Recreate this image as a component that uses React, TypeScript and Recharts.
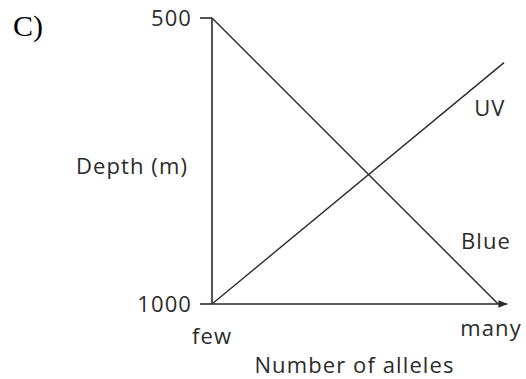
import React from "react";
import {
  LineChart,
  Line,
  XAxis,
  YAxis,
  ReferenceDot,
} from "recharts";

// x: number of alleles on a 0..100 scale (few -> many), y: depth in m
const blueLine = [
  { x: 0, depth: 500 },
  { x: 97, depth: 1000 },
];
const uvLine = [
  { x: 0, depth: 1000 },
  { x: 99, depth: 578 },
];

const xTicks = [0, 94.6];
const xTickLabels = ["few", "many"];
const yTicks = [500, 1000];

const seriesLabels = [
  { name: "UV", x: 94.2, depth: 657 },
  { name: "Blue", x: 92.9, depth: 890 },
];

const FONT = "'Open Sans', sans-serif";
const INK = "#2b2b2b";
const textStyle = { fontFamily: FONT, fontSize: 22, letterSpacing: 1.1, fill: INK };

const XTick = (props: any) => {
  const { x, y, payload, index } = props;
  const dy = index === 0 ? 8 : 0;
  return (
    <text x={x} y={y + dy} dy="0.71em" textAnchor="middle" {...textStyle}>
      {xTickLabels[xTicks.indexOf(payload.value)]}
    </text>
  );
};

export default function App() {
  return (
    <div style={{ position: "absolute", left: 0, top: 0, width: 526, height: 379, background: "#fff" }}>
      <div
        style={{
          position: "absolute",
          left: 13,
          top: 9,
          fontFamily: "'Liberation Serif', serif",
          fontSize: 30,
          lineHeight: 1.15,
          color: "#000",
        }}
      >
        C)
      </div>
      <LineChart
        width={526}
        height={379}
        margin={{ top: 18, right: 19, bottom: 0, left: 0 }}
      >
        <defs>
          <marker
            id="arrowHead"
            viewBox="0 0 10 10"
            refX="9"
            refY="5"
            markerWidth="6"
            markerHeight="6"
            orient="auto"
            markerUnits="strokeWidth"
          >
            <path d="M0,1 L10,5 L0,9 z" fill={INK} />
          </marker>
        </defs>
        <XAxis
          type="number"
          dataKey="x"
          domain={[0, 100]}
          ticks={xTicks}
          height={75}
          tickLine={false}
          tickSize={0}
          tickMargin={16}
          axisLine={{ stroke: INK, strokeWidth: 1.6, markerEnd: "url(#arrowHead)" }}
          tick={<XTick />}
          label={{
            value: "Number of alleles",
            position: "insideBottom",
            offset: 6,
            dx: -5,
            ...textStyle,
          }}
        />
        <YAxis
          type="number"
          dataKey="depth"
          domain={[500, 1000]}
          reversed
          ticks={yTicks}
          width={212}
          tickSize={12}
          tickMargin={8}
          tickLine={{ stroke: INK, strokeWidth: 1.6 }}
          axisLine={{ stroke: INK, strokeWidth: 1.6 }}
          tick={textStyle}
          label={{
            value: "Depth (m)",
            position: "insideRight",
            offset: 24,
            dy: 5,
            ...textStyle,
          }}
        />
        <Line
          data={blueLine}
          dataKey="depth"
          stroke={INK}
          strokeWidth={1.4}
          dot={false}
          activeDot={false}
          isAnimationActive={false}
        />
        <Line
          data={uvLine}
          dataKey="depth"
          stroke={INK}
          strokeWidth={1.4}
          dot={false}
          activeDot={false}
          isAnimationActive={false}
        />
        {seriesLabels.map((s) => (
          <ReferenceDot
            key={s.name}
            x={s.x}
            y={s.depth}
            r={0}
            fill="none"
            stroke="none"
            label={{ value: s.name, position: "center", ...textStyle }}
          />
        ))}
      </LineChart>
    </div>
  );
}
